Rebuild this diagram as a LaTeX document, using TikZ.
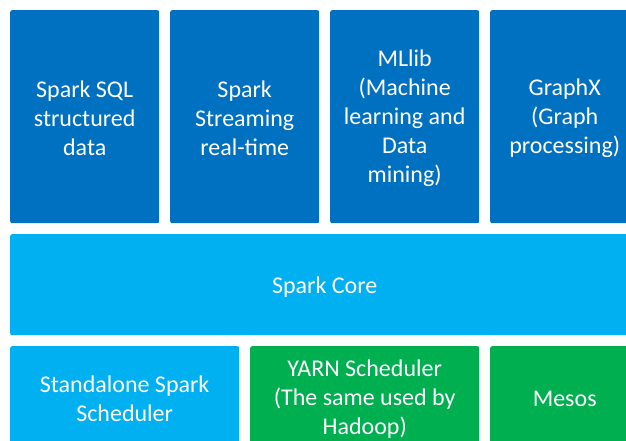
\documentclass[tikz,border=0pt]{standalone}
\usepackage{fontspec}
\setmainfont{Carlito}
\definecolor{dkblue}{HTML}{0070C0}
\definecolor{ltblue}{HTML}{00B0F0}
\definecolor{grn}{HTML}{00B050}
\begin{document}
\begin{tikzpicture}[x=1pt,y=-1pt,
  txt/.style={text=white, align=center, inner sep=0pt, yshift=-2pt,
    font=\fontsize{24}{29}\selectfont},
  box/.style={rounded corners=2pt, inner sep=0pt, anchor=north west},
  topbox/.style={box, fill=dkblue, minimum width=149pt, minimum height=213pt},
  corebox/.style={box, fill=ltblue, minimum width=629pt, minimum height=101pt},
  botbox/.style={box, minimum width=229pt, minimum height=102pt}]
\useasboundingbox (0,0) rectangle (626,441);
\clip (0,0) rectangle (626,441);
\node[topbox, label={[txt]center:{Spark SQL\\structured\\data}}] (sql) at (10,10) {};
\node[topbox, label={[txt]center:{Spark\\Streaming\\real-time}}] (stream) at (170,10) {};
\node[topbox, label={[txt]center:{MLlib\\(Machine\\learning and\\Data\\mining)}}] (mllib) at (330,10) {};
\node[topbox, label={[txt]center:{GraphX\\(Graph\\processing)}}] (graphx) at (490,10) {};
\node[corebox, label={[txt]center:{Spark Core}}] (core) at (10,234) {};
\node[botbox, fill=ltblue, label={[txt]center:{Standalone Spark\\Scheduler}}] (standalone) at (10,346) {};
\node[botbox, fill=grn, label={[txt]center:{YARN Scheduler\\(The same used by\\Hadoop)}}] (yarn) at (250,346) {};
\node[botbox, fill=grn, minimum width=149pt, label={[txt]center:{Mesos}}] (mesos) at (490,346) {};
\end{tikzpicture}
\end{document}
